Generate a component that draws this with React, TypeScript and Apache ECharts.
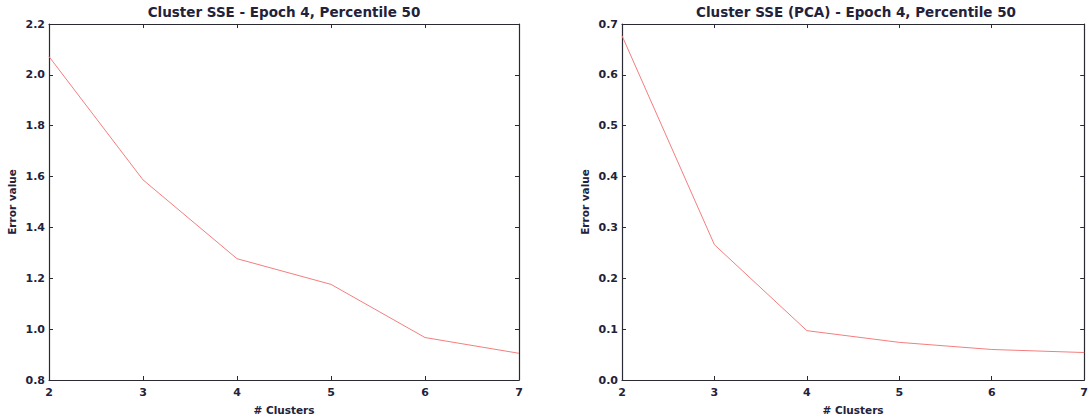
import React, { useEffect, useRef } from "react";
import * as echarts from "echarts";

// Number of clusters on the x axis
const clusters = [2, 3, 4, 5, 6, 7];
// Sum of squared errors per cluster count
const sseRaw = [2.072, 1.587, 1.277, 1.176, 0.967, 0.905];
const ssePca = [0.677, 0.266, 0.097, 0.074, 0.06, 0.054];

const titles = [
  "Cluster SSE - Epoch 4, Percentile 50",
  "Cluster SSE (PCA) - Epoch 4, Percentile 50",
];
const yRanges = [
  { min: 0.8, max: 2.2, interval: 0.2 },
  { min: 0, max: 0.7, interval: 0.1 },
];

const FONT = "DejaVu Sans";
const TEXT = "#22223a";
const AXIS = "#2a2a35";
const LINE = "#f47e7e";

export default function App() {
  const ref = useRef<HTMLDivElement>(null);

  useEffect(() => {
    if (!ref.current) return;
    const chart = echarts.init(ref.current, null, { renderer: "svg" });

    const grids = [
      { left: 49, top: 24, width: 470, height: 361 },
      { left: 622, top: 24, width: 468, height: 361 },
    ];

    const xAxes: any[] = [];
    const yAxes: any[] = [];
    grids.forEach((_, i) => {
      const tick = { show: true, inside: true, length: 4, lineStyle: { color: AXIS } };
      const axisLine = { show: true, onZero: false, lineStyle: { color: AXIS, width: 1.2 } };
      xAxes.push({
        type: "value",
        gridIndex: i,
        min: 2,
        max: 7,
        interval: 1,
        position: "bottom",
        axisLine,
        axisTick: tick,
        splitLine: { show: false },
        axisLabel: { color: TEXT, fontFamily: FONT, fontSize: 11, fontWeight: "bold", margin: 7 },
        name: "# Clusters",
        nameLocation: "middle",
        nameGap: 24,
        nameTextStyle: { color: TEXT, fontFamily: FONT, fontSize: 10.5, fontWeight: "bold" },
      });
      xAxes.push({
        type: "value",
        gridIndex: i,
        min: 2,
        max: 7,
        interval: 1,
        position: "top",
        axisLine,
        axisTick: tick,
        splitLine: { show: false },
        axisLabel: { show: false },
      });
      const yr = yRanges[i];
      yAxes.push({
        type: "value",
        gridIndex: i,
        min: yr.min,
        max: yr.max,
        interval: yr.interval,
        position: "left",
        axisLine,
        axisTick: tick,
        splitLine: { show: false },
        axisLabel: {
          color: TEXT,
          fontFamily: FONT,
          fontSize: 11,
          fontWeight: "bold",
          margin: 4,
          formatter: (v: number) => v.toFixed(1),
        },
        name: "Error value",
        nameLocation: "middle",
        nameGap: 32,
        nameTextStyle: { color: TEXT, fontFamily: FONT, fontSize: 10.5, fontWeight: "bold" },
      });
      yAxes.push({
        type: "value",
        gridIndex: i,
        min: yr.min,
        max: yr.max,
        interval: yr.interval,
        position: "right",
        axisLine,
        axisTick: tick,
        splitLine: { show: false },
        axisLabel: { show: false },
      });
    });

    const seriesData = [sseRaw, ssePca];

    chart.setOption({
      animation: false,
      backgroundColor: "#ffffff",
      grid: grids,
      xAxis: xAxes,
      yAxis: yAxes,
      graphic: titles.map((t, i) => ({
        type: "text",
        x: grids[i].left + grids[i].width / 2,
        y: 12,
        style: {
          text: t,
          textAlign: "center",
          textVerticalAlign: "middle",
          fill: TEXT,
          font: `bold 13.5px "${FONT}"`,
        },
      })),
      series: seriesData.map((vals, i) => ({
        type: "line",
        xAxisIndex: i * 2,
        yAxisIndex: i * 2,
        data: clusters.map((c, k) => [c, vals[k]]),
        showSymbol: false,
        lineStyle: { color: LINE, width: 1 },
      })),
    });

    return () => chart.dispose();
  }, []);

  return (
    <div
      ref={ref}
      style={{ position: "fixed", left: 0, top: 0, width: 1091, height: 420 }}
    />
  );
}
